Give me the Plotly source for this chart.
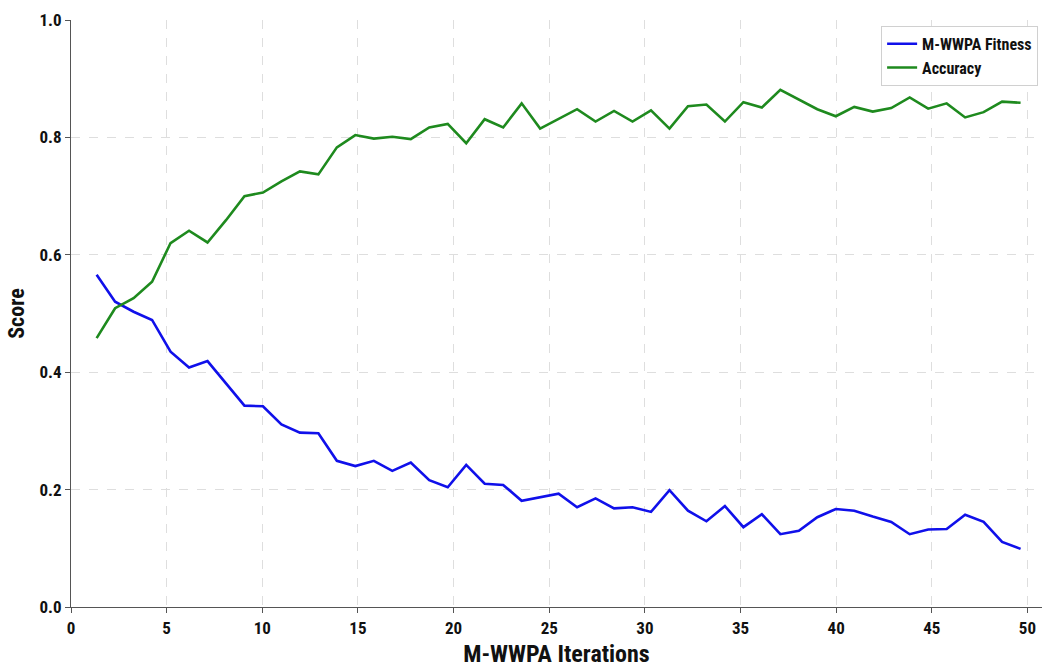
import numpy as np
import plotly.graph_objects as go

# Iteration positions of the 51 recorded optimisation steps
iterations = np.linspace(1.34, 49.64, 51)

fitness = [
    0.566, 0.520, 0.503, 0.489, 0.435, 0.408, 0.419, 0.381, 0.343, 0.342,
    0.311, 0.297, 0.296, 0.249, 0.240, 0.249, 0.232, 0.246, 0.216, 0.204,
    0.242, 0.210, 0.208, 0.181, 0.187, 0.193, 0.170, 0.185, 0.168, 0.170,
    0.162, 0.199, 0.164, 0.146, 0.172, 0.136, 0.158, 0.124, 0.130, 0.153,
    0.167, 0.164, 0.154, 0.145, 0.124, 0.132, 0.133, 0.157, 0.145, 0.111,
    0.099,
]

accuracy = [
    0.458, 0.509, 0.526, 0.554, 0.620, 0.641, 0.621, 0.659, 0.700, 0.706,
    0.725, 0.742, 0.737, 0.783, 0.804, 0.798, 0.801, 0.797, 0.817, 0.823,
    0.790, 0.831, 0.817, 0.858, 0.815, 0.831, 0.848, 0.827, 0.845, 0.827,
    0.846, 0.815, 0.853, 0.856, 0.827, 0.860, 0.851, 0.881, 0.864, 0.848,
    0.836, 0.852, 0.844, 0.850, 0.868, 0.849, 0.858, 0.834, 0.843, 0.861,
    0.859,
]

x_ticks = [0, 5, 10, 15, 20, 25, 30, 35, 40, 45, 50]
y_ticks = [0.0, 0.2, 0.4, 0.6, 0.8, 1.0]

FONT = "Roboto Condensed, Liberation Sans Narrow, DejaVu Sans Condensed, Roboto"

fig = go.Figure()
fig.add_trace(go.Scatter(
    x=iterations, y=fitness, mode="lines", name="M-WWPA Fitness",
    line=dict(color="#1010ea", width=2.6),
))
fig.add_trace(go.Scatter(
    x=iterations, y=accuracy, mode="lines", name="Accuracy",
    line=dict(color="#1e8a1e", width=2.6),
))

grid = dict(showgrid=True, gridcolor="#dedede", griddash="dash", gridwidth=1)

fig.update_layout(
    width=1042, height=670,
    margin=dict(l=71, r=0, t=20, b=63),
    paper_bgcolor="white", plot_bgcolor="white",
    font=dict(family=FONT, color="#111111"),
    xaxis=dict(
        range=[0, 50.76], tickvals=x_ticks, ticktext=[str(v) for v in x_ticks],
        tickfont=dict(family=FONT, size=17, weight="bold", color="#111"),
        title=dict(text="M-WWPA Iterations", standoff=8,
                   font=dict(family=FONT, size=24, weight="bold", color="#111")),
        showline=True, linecolor="#555", linewidth=1.2,
        ticks="outside", ticklen=5, tickcolor="#555",
        zeroline=False, **grid,
    ),
    yaxis=dict(
        range=[0, 1.0], tickvals=y_ticks, ticktext=[f"{v:.1f}" for v in y_ticks],
        tickfont=dict(family=FONT, size=17, weight="bold", color="#111"),
        title=dict(text="Score", standoff=8,
                   font=dict(family=FONT, size=22, weight="bold", color="#111")),
        showline=True, linecolor="#555", linewidth=1.2,
        ticks="outside", ticklen=5, tickcolor="#555",
        zeroline=False, **grid,
    ),
    legend=dict(
        x=0.996, y=0.99, xanchor="right", yanchor="top",
        bgcolor="white", bordercolor="#d0d0d0", borderwidth=1,
        font=dict(family=FONT, size=16, weight="bold", color="#111"),
        itemwidth=30, tracegroupgap=2,
    ),
    showlegend=True,
)

fig.write_html("out.html")
